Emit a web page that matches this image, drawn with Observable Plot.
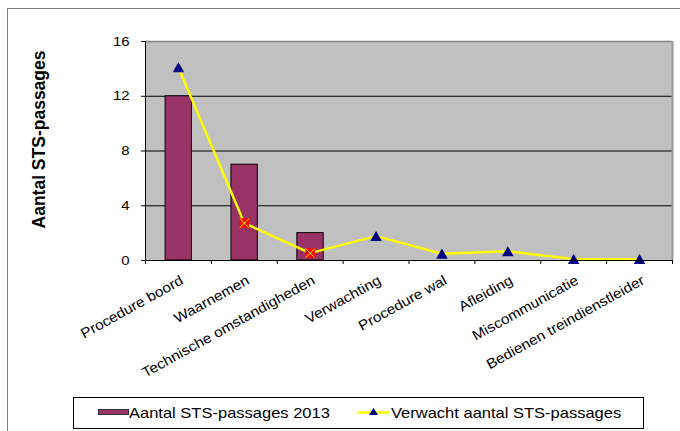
<!DOCTYPE html>
<html><head><meta charset="utf-8">
<script src="https://cdn.jsdelivr.net/npm/d3@7"></script>
<script src="https://cdn.jsdelivr.net/npm/@observablehq/plot@0.6"></script>
<style>
html,body{margin:0;padding:0;background:#fff;}
#wrap{position:relative;width:680px;height:431px;overflow:hidden;background:#fff;font-family:"Liberation Sans",Arial,sans-serif;}
#border{position:absolute;left:7px;top:8px;width:1000px;height:1000px;border:1px solid #7a7a7a;box-sizing:border-box;pointer-events:none;}
#chart{position:absolute;left:0;top:0;}
#legend{position:absolute;left:73px;top:397px;width:571px;height:32px;border:1px solid #000;box-sizing:border-box;background:#fff;}
#legend .sw{position:absolute;left:24px;top:11px;width:31px;height:6px;background:#993366;border:1px solid #333;box-sizing:border-box;}
#legend .tx{position:absolute;top:0;line-height:29px;font-size:15px;color:#000;white-space:nowrap;transform:scaleX(1.1);transform-origin:left center;}
#legend svg{position:absolute;left:283px;top:0;}
</style></head><body>
<div id="wrap"><div id="chart"></div><div id="border"></div>
<div id="legend">
  <div class="sw"></div><div class="tx" id="t1" style="left:55px"></div>
  <svg width="34" height="29"><line x1="0" x2="33" y1="14.5" y2="14.5" stroke="#ffff00" stroke-width="2.5"/><path d="M16.5,10 L21,17 L12,17 Z" fill="#000080"/></svg>
  <div class="tx" id="t2" style="left:317px"></div>
</div>
</div>
<script>
const categories = ["Procedure boord", "Waarnemen", "Technische omstandigheden", "Verwachting", "Procedure wal", "Afleiding", "Miscommunicatie", "Bedienen treindienstleider"];
const actual2013 = [12, 7, 2, 0, 0, 0, 0, 0];
const expected = [14.1, 2.73, 0.54, 1.78, 0.49, 0.67, 0.1, 0.1];
const yTicks = [0, 4, 8, 12, 16];
const seriesNames = ["Aantal STS-passages 2013", "Verwacht aantal STS-passages"];
const yTitle = "Aantal STS-passages";

const crossMarked = new Set(["Waarnemen", "Technische omstandigheden"]);
const rows = categories.map((c, i) => ({c, i, a: actual2013[i], e: expected[i]}));
const cx = d => d.i + 0.5;

const plot = Plot.plot({
  width: 680, height: 390,
  marginLeft: 145, marginRight: 8, marginTop: 41, marginBottom: 130,
  x: {type: "linear", domain: [0, categories.length], axis: null},
  y: {domain: [0, 16], axis: null},
  style: {fontFamily: "'Liberation Sans', Arial, sans-serif", fontSize: "13px", background: "transparent", color: "#000", overflow: "visible"},
  marks: [
    Plot.frame({fill: "#c0c0c0", stroke: "none"}),
    Plot.ruleY(yTicks.filter(t => t > 0 && t < 16), {stroke: "#000", strokeWidth: 1}),
    Plot.ruleY([16], {stroke: "#808080", strokeWidth: 1.5}),
    Plot.ruleX([categories.length], {stroke: "#999", strokeWidth: 2}),
    Plot.rectY(rows.filter(d => d.a > 0), {x1: d => d.i + 0.305, x2: d => d.i + 0.705, y: "a", fill: "#993366", stroke: "#000", strokeWidth: 1}),
    Plot.line(rows, {x: cx, y: "e", stroke: "#ffff00", strokeWidth: 2.5}),
    Plot.dot(rows.filter(d => !crossMarked.has(d.c)), {x: cx, y: "e", symbol: "triangle", r: 4.3, fill: "#000080", dy: 1.5}),
    Plot.dot(rows.filter(d => crossMarked.has(d.c)), {x: cx, y: "e", symbol: "square", r: 5.5, fill: "#ff0000"}),
    Plot.dot(rows.filter(d => crossMarked.has(d.c)), {x: cx, y: "e", symbol: "times", r: 4.2, stroke: "#ffff00", strokeWidth: 1}),
    Plot.ruleY([0], {stroke: "#000", strokeWidth: 1}),
    Plot.ruleX([0], {stroke: "#000", strokeWidth: 1}),
    Plot.axisY({ticks: yTicks, tickSize: 4, tickPadding: 12, tickFormat: d => String(d), label: null, stroke: "#000"}),
    Plot.axisX({ticks: d3.range(categories.length + 1), tickSize: 4, tickFormat: () => "", label: null, stroke: "#000"}),
    Plot.text(rows, {x: cx, y: () => 0, text: "c", rotate: -29, textAnchor: "end", lineAnchor: "top", dy: 14, dx: 1, fontSize: 14, fill: "#000"}),
    Plot.text([yTitle], {frameAnchor: "left", dx: -106.5, dy: -11.5, rotate: -90, textAnchor: "middle", lineAnchor: "middle", fontWeight: "bold", fontSize: 17.5, fill: "#000"})
  ]
});
document.getElementById("chart").appendChild(plot);
document.getElementById("t1").textContent = seriesNames[0];
document.getElementById("t2").textContent = seriesNames[1];

function stretch(texts, k) {
  texts.forEach(t => {
    const L = t.getComputedTextLength();
    if (L > 0) { t.setAttribute("textLength", L * k); t.setAttribute("lengthAdjust", "spacingAndGlyphs"); }
  });
}
const allTexts = Array.from(plot.querySelectorAll("text"));
const tickLabels = yTicks.map(String);
stretch(allTexts.filter(t => tickLabels.includes(t.textContent)), 1.15);
stretch(allTexts.filter(t => categories.includes(t.textContent)), 1.1);
</script>
</body></html>
